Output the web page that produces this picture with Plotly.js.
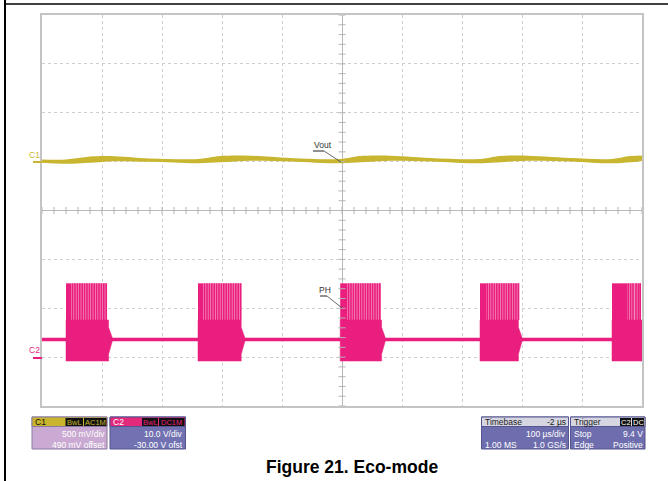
<!DOCTYPE html>
<html><head><meta charset="utf-8">
<script src="https://cdn.plot.ly/plotly-3.0.1.min.js"></script>
<style>html,body{margin:0;padding:0;background:#fff}#chart{width:668px;height:481px}</style>
</head><body><div id="chart"></div>
<script>
// ---- data (time in µs relative to screen centre, vertical values in screen divisions) ----
const c1Time  = [-500,-460,-420,-387,-320,-240,-203,-162,-87,-3,30,72,147,230,263,300,380,450,480,500];
const c1Level = [1.01,1.00,1.04,1.06,1.03,1.01,1.05,1.07,1.04,1.01,1.05,1.07,1.04,1.01,1.05,1.07,1.04,1.01,1.05,1.07];
const c1Noise = [0.035,0.045,0.065,0.055,0.035,0.045,0.065,0.055,0.035,0.045,0.065,0.055,0.035,0.045,0.065,0.055,0.035,0.045,0.065,0.055];

const c2Baseline = -2.64;
const c2BaseNoise = 0.035;
const burstStart    = [-460,-240,-3,230,450];
const burstEnd      = [-383,-162,72,300,500];
const burstDenseEnd = [-451,-231,9,240,475];
const burstSolidTop = -2.24;
const burstBottom   = -3.08;
const burstSpikeTop = -1.49;
const burstSpikes = [
  [-449,-445,-441,-437,-433,-429,-425,-421,-417,-413,-409,-405,-401,-397,-393],
  [-229,-225,-221,-217,-213,-209,-205,-201,-197,-193,-189,-185,-181,-177,-173,-169],
  [11,15,19,23,27,31,35,39,43,47,51,55,59,63],
  [242,246,250,254,258,262,266,270,274,278,282,286,290,294],
  [477,481,485,490,494,497]
];
const trigLevel = -2.06;
const trigTime = 0;

const c1Color = '#c8b630';
const c2Color = '#ea1e7e';
const c2Light = '#f48cbc';

// ---- traces ----
const traces = [];
// C1 band
traces.push({x:c1Time, y:c1Level.map((v,i)=>v+c1Noise[i]), mode:'lines', line:{width:0, color:c1Color, shape:'spline'}, hoverinfo:'skip'});
traces.push({x:c1Time, y:c1Level.map((v,i)=>v-c1Noise[i]), mode:'lines', fill:'tonexty', fillcolor:c1Color, line:{width:0, color:c1Color, shape:'spline'}, hoverinfo:'skip'});
traces.push({x:c1Time, y:c1Level, mode:'lines', line:{width:2, color:c1Color, shape:'spline'}, hoverinfo:'skip'});

// C2 baseline
traces.push({x:[-500,500], y:[c2Baseline+c2BaseNoise,c2Baseline+c2BaseNoise], mode:'lines', line:{width:0,color:c2Color}, hoverinfo:'skip'});
traces.push({x:[-500,500], y:[c2Baseline-c2BaseNoise,c2Baseline-c2BaseNoise], mode:'lines', fill:'tonexty', fillcolor:c2Color, line:{width:0,color:c2Color}, hoverinfo:'skip'});

burstStart.forEach((s,i)=>{
  const e = burstEnd[i];
  const taper = e >= 500 ? 0 : 6;
  const se = e - taper;
  const spikes = burstSpikes[i];
  const lastSpike = spikes[spikes.length-1];
  // light stripe background
  traces.push({x:[burstDenseEnd[i], lastSpike+1.5, lastSpike+1.5, burstDenseEnd[i], burstDenseEnd[i]],
    y:[burstSolidTop,burstSolidTop,burstSpikeTop,burstSpikeTop,burstSolidTop],
    mode:'lines', fill:'toself', fillcolor:c2Light, line:{width:0,color:c2Light}, hoverinfo:'skip'});
  // dense block
  traces.push({x:[s, burstDenseEnd[i], burstDenseEnd[i], s, s],
    y:[burstSolidTop,burstSolidTop,burstSpikeTop,burstSpikeTop,burstSolidTop],
    mode:'lines', fill:'toself', fillcolor:c2Color, line:{width:0,color:c2Color}, hoverinfo:'skip'});
  // spikes
  const sx=[], sy=[];
  spikes.forEach(t=>{ sx.push(t,t,null); sy.push(burstSolidTop,burstSpikeTop,null); });
  traces.push({x:sx, y:sy, mode:'lines', line:{width:1.6,color:c2Color}, connectgaps:false, hoverinfo:'skip'});
  // solid lower body with a short blunt decay tail
  traces.push({x:[s, s, se, se, e, e, se, se, s],
    y:[burstBottom, burstSolidTop, burstSolidTop, c2Baseline+0.25, c2Baseline+0.04, c2Baseline-0.04, c2Baseline-0.3, burstBottom, burstBottom],
    mode:'lines', fill:'toself', fillcolor:c2Color, line:{width:0.5,color:c2Color}, hoverinfo:'skip'});
});

// centre-line tick marks (graticule)
const tkx=[], tky=[], tvx=[], tvy=[];
for (let t=-500; t<=500; t+=20) { tkx.push(t); tky.push(0); }
for (let d=-4; d<=4.001; d+=0.2) { tvx.push(0); tvy.push(+d.toFixed(2)); }
traces.push({x:tkx, y:tky, mode:'markers', marker:{symbol:'line-ns', size:5, line:{width:1,color:'#b4b4b4'}}, hoverinfo:'skip'});
traces.push({x:tvx, y:tvy, mode:'markers', marker:{symbol:'line-ew', size:5, line:{width:1,color:'#b4b4b4'}}, hoverinfo:'skip'});

// trigger markers
traces.push({x:[505], y:[trigLevel], mode:'markers', marker:{symbol:'triangle-left', size:7, color:c2Color}, cliponaxis:false, hoverinfo:'skip'});
traces.push({x:[trigTime], y:[-4.1], mode:'markers', marker:{symbol:'triangle-up', size:6, color:c2Color}, cliponaxis:false, hoverinfo:'skip'});

// ---- layout helpers ----
const PX = x => (x-42)/600;
const PY = y => (406-y)/391;
const shapes = [];
const ann = [];
const FONT = 'Liberation Sans, Arial, sans-serif';
function rect(x0,y0,x1,y1,fill,lc,lw){ shapes.push({type:'rect',xref:'paper',yref:'paper',x0:PX(x0),x1:PX(x1),y0:PY(y1),y1:PY(y0),fillcolor:fill,line:{color:lc||fill,width:lw===undefined?0:lw},layer:'above'}); }
function line(x0,y0,x1,y1,c,w){ shapes.push({type:'line',xref:'paper',yref:'paper',x0:PX(x0),x1:PX(x1),y0:PY(y0),y1:PY(y1),line:{color:c,width:w},layer:'above'}); }
function txt(s,x,y,anchor,color,size,bold){ ann.push({text:bold?'<b>'+s+'</b>':s,xref:'paper',yref:'paper',x:PX(x),y:PY(y),xanchor:anchor,yanchor:'middle',showarrow:false,borderpad:0,font:{family:FONT,size:size||8,color:color||'#fff'}}); }

// frame lines
line(5,0,5,481,'#000',2);
line(5,4,668,4,'#000',1.5);

// channel labels
txt('C1',41,155,'right',c1Color,8.5);
line(33,162,42,162,c1Color,2);
txt('C2',41,350,'right',c2Color,8.5);
line(33,358,42,358,c2Color,2);

// Vout / PH callouts
txt('Vout',323,145,'center','#333',8.5);
line(313,151,324,151,'#222',1);
line(324,151,341,162,'#444',0.8);
txt('PH',325,289.5,'center','#333',8.5);
line(320,296,327,296,'#222',1);
line(327,296,342,308,'#444',0.8);

// info panels
const hdrY0=417, hdrY1=426.5, bodyY1=449;
// C1
rect(32,hdrY0,107,bodyY1,'#caaad2','#8b7aa5',1);
rect(32,hdrY0,107,hdrY1,'#c8b42d','#8b7aa5',1);
rect(65.5,418,83,426,'#111'); rect(84,418,106.5,426,'#111');
txt('C1',34,421.7,'left','#111',8.5);
txt('BwL',74.3,422,'center',c1Color,7.5);
txt('AC1M',95.3,422,'center',c1Color,7.5);
txt('500 mV/div',106,434,'right','#fff',8.5);
txt('490 mV offset',106,445,'right','#fff',8.5);
// C2
rect(110,hdrY0,185.5,bodyY1,'#7272b2','#55558f',1);
rect(110,hdrY0,185.5,hdrY1,'#e2297b','#55558f',1);
rect(142,418,158,426,'#111'); rect(159,418,184.5,426,'#111');
txt('C2',112,421.7,'left','#fff',8.5);
txt('BwL',150,422,'center',c2Color,7.5);
txt('DC1M',171.8,422,'center',c2Color,7.5);
txt('10.0 V/div',184,434,'right','#fff',8.5);
txt('-30.00 V ofst',184,445,'right','#fff',8.5);
// Timebase
rect(481.5,hdrY0,568.5,bodyY1,'#6e6eae','#55558f',1);
rect(481.5,hdrY0,568.5,hdrY1,'#d6d6e2','#55558f',1);
txt('Timebase',484,421.7,'left','#222',8.5);
txt('-2 µs',567,421.7,'right','#222',8.5);
txt('100 µs/div',567,434,'right','#fff',8.5);
txt('1.00 MS',484,445,'left','#fff',8.5);
txt('1.0 GS/s',567,445,'right','#fff',8.5);
// Trigger
rect(570.5,hdrY0,645,bodyY1,'#6e6eae','#55558f',1);
rect(570.5,hdrY0,645,hdrY1,'#d6d6e2','#55558f',1);
rect(620,418,631,426,'#111'); rect(632,418,644,426,'#111');
txt('Trigger',573,421.7,'left','#222',8.5);
txt('C2',625.5,422,'center','#fff',7.5);
txt('DC',638,422,'center','#fff',7.5);
txt('Stop',573,434,'left','#fff',8.5);
txt('9.4 V',644,434,'right','#fff',8.5);
txt('Edge',573,445,'left','#fff',8.5);
txt('Positive',644,445,'right','#fff',8.5);

// caption
txt('Figure 21. Eco-mode',352,467,'center','#000',17.5,true);

const layout = {
  width:668, height:481,
  margin:{l:42,r:26,t:15,b:75,pad:0},
  paper_bgcolor:'#fff', plot_bgcolor:'#fff',
  showlegend:false,
  xaxis:{range:[-500,500], tick0:0, dtick:100, showgrid:true, griddash:'dot', gridcolor:'#cfcfcf', gridwidth:1,
         zeroline:true, zerolinecolor:'#b8b8b8', zerolinewidth:1, showline:true, mirror:true, linecolor:'#c4c4c4', linewidth:2,
         showticklabels:false, ticks:'', fixedrange:true},
  yaxis:{range:[-4,4], tick0:0, dtick:1, showgrid:true, griddash:'dot', gridcolor:'#cfcfcf', gridwidth:1,
         zeroline:true, zerolinecolor:'#b8b8b8', zerolinewidth:1, showline:true, mirror:true, linecolor:'#c4c4c4', linewidth:2,
         showticklabels:false, ticks:'', fixedrange:true},
  shapes:shapes, annotations:ann
};
Plotly.newPlot('chart', traces, layout, {staticPlot:true, displayModeBar:false});
</script></body></html>
